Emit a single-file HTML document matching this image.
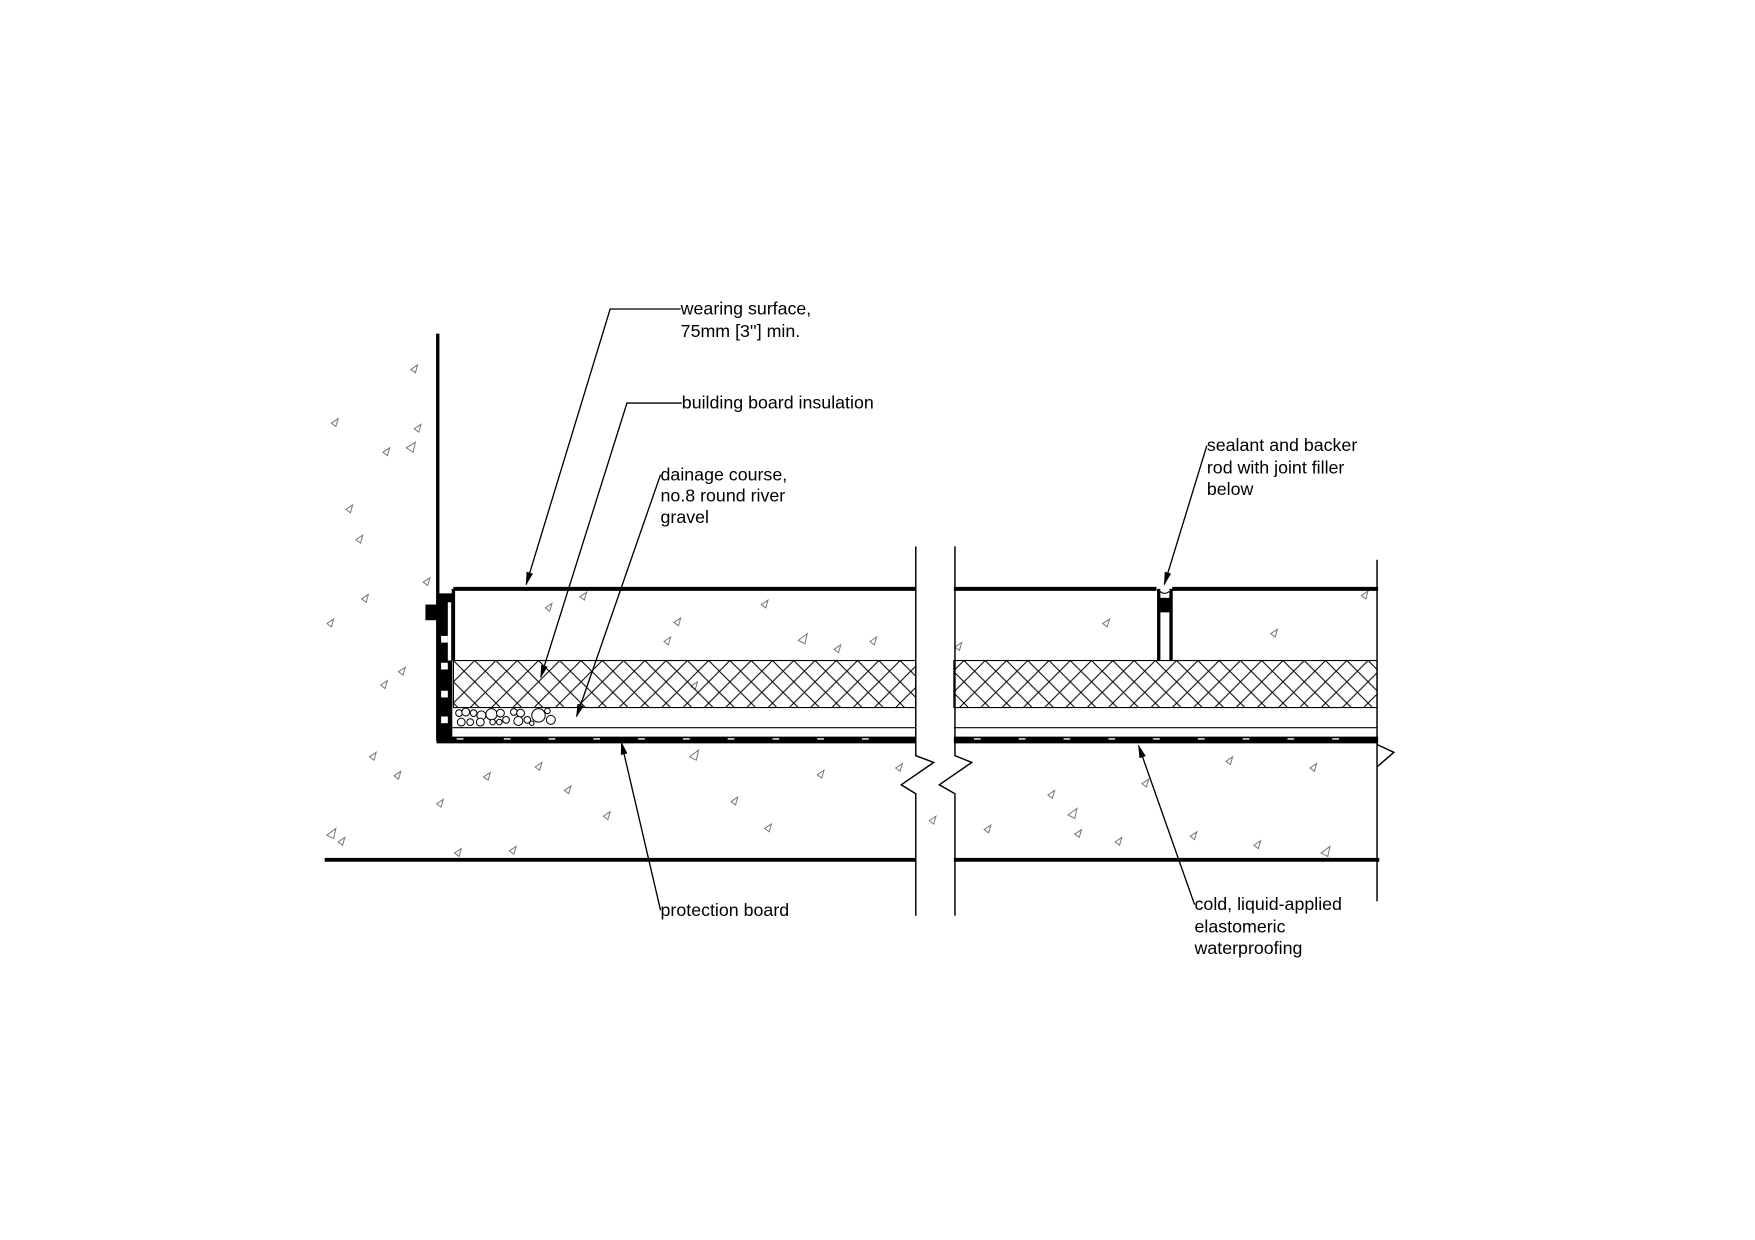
<!DOCTYPE html>
<html><head><meta charset="utf-8"><style>
html,body{margin:0;padding:0;background:#fff;}
svg{display:block;}
text{font-family:"Liberation Sans",sans-serif;font-size:15.9px;fill:#000;}
</style></head><body>
<svg width="1755" height="1240" viewBox="0 0 1567.6 1107.6" xmlns="http://www.w3.org/2000/svg">
<defs>
<pattern id="hatch" width="19" height="19" patternUnits="userSpaceOnUse" x="405" y="590">
<path d="M0 0L19 19M19 0L0 19" stroke="#000" stroke-width="0.9"/>
</pattern>
<marker id="ar" markerWidth="12" markerHeight="8" refX="11" refY="4" orient="auto" markerUnits="userSpaceOnUse">
<path d="M0 1L12 4L0 7Z" fill="#000"/>
</marker>
</defs>
<g fill="none" stroke="#777" stroke-width="0.9">
<path d="M367 330l6-4l-2 7zM296 378l6-4l-2 7zM370 383l6-4l-2 7zM363 400l8-5l-2 9zM342 404l6-4l-2 7zM309 455l6-4l-2 7zM318 482l6-4l-2 7zM378 520l6-4l-2 7zM323 535l6-4l-2 7zM292 557l6-4l-2 7zM356 600l6-4l-2 7zM340 612l6-4l-2 7zM330 676l6-4l-2 7zM352 693l6-4l-2 7zM292 746l8-6l-2 9zM302 752l6-4l-2 7zM406 762l6-4l-2 7zM455 760l6-4l-2 7z"/>
<path d="M518 533l6-4l-2 7zM487 543l6-4l-2 7zM602 556l6-4l-2 7zM617 613l6-4l-2 7zM680 540l6-4l-2 7zM593 573l6-4l-2 7zM713 572l8-6l-2 9zM745 580l6-4l-2 7zM777 573l6-4l-2 7zM853 578l6-4l-2 7zM985 557l6-4l-2 7zM1135 566l6-4l-2 7zM1216 532l6-4l-2 7z"/>
<path d="M478 685l6-4l-2 7zM616 676l8-6l-2 9zM653 716l6-4l-2 7zM730 692l6-4l-2 7zM800 686l6-4l-2 7zM539 729l6-4l-2 7zM504 706l6-4l-2 7zM432 694l6-4l-2 7zM390 718l6-4l-2 7zM683 740l6-4l-2 7zM830 733l6-4l-2 7zM879 741l6-4l-2 7zM936 710l6-4l-2 7zM954 728l8-6l-2 9zM960 745l6-4l-2 7zM996 752l6-4l-2 7zM1063 747l6-4l-2 7zM1095 680l6-4l-2 7zM1170 686l6-4l-2 7zM1020 700l6-4l-2 7zM1180 762l8-6l-2 9zM1120 755l6-4l-2 7z"/>
</g>
<rect x="405" y="590" width="413" height="42" fill="url(#hatch)" stroke="#000" stroke-width="1"/>
<rect x="852" y="590" width="378" height="42" fill="url(#hatch)" stroke="#000" stroke-width="1"/>
<g stroke="#000" fill="none">
<line x1="391" y1="298" x2="391" y2="662" stroke-width="3"/>
<line x1="405" y1="526" x2="818" y2="526" stroke-width="3.5"/>
<line x1="852" y1="526" x2="1033" y2="526" stroke-width="3.5"/>
<line x1="1047" y1="526" x2="1231" y2="526" stroke-width="3.5"/>
<line x1="405" y1="526" x2="405" y2="590" stroke-width="3"/>
<line x1="400" y1="650" x2="818" y2="650" stroke-width="1"/>
<line x1="852" y1="650" x2="1230" y2="650" stroke-width="1"/>
<line x1="390" y1="661" x2="818" y2="661" stroke-width="6"/>
<line x1="852" y1="661" x2="1231" y2="661" stroke-width="6"/>
<line x1="290" y1="768" x2="818" y2="768" stroke-width="3.5"/>
<line x1="852" y1="768" x2="1232" y2="768" stroke-width="3.5"/>
<path d="M818 488V675L834 681L805 701L818 709V818" stroke-width="1.3"/>
<path d="M853 488V675L868 681L839 701L853 709V818" stroke-width="1.3"/>
<line x1="1230" y1="500" x2="1230" y2="805" stroke-width="1.3"/>
<path d="M1230 665L1245 672L1230 685" stroke-width="1.3"/>
<line x1="1035" y1="526" x2="1035" y2="590" stroke-width="3"/>
<line x1="1046" y1="526" x2="1046" y2="590" stroke-width="3"/>
</g>
<rect x="1034" y="534" width="13" height="13" fill="#000"/>
<path d="M1035 527Q1040 533 1046 527" stroke="#000" fill="#fff"/>
<rect x="380" y="540" width="10" height="14" fill="#000"/>
<rect x="390" y="530" width="14" height="130" fill="#000"/>
<g fill="#fff"><rect x="394" y="568" width="6" height="6"/><rect x="394" y="592" width="6" height="6"/><rect x="394" y="617" width="6" height="6"/><rect x="394" y="640" width="6" height="6"/><rect x="400" y="538" width="3" height="52"/></g>
<g stroke="#fff" stroke-width="1.2"><path d="M408 660h6M450 660h6M490 660h6M530 660h6M570 660h6M610 660h6M650 660h6M690 660h6M730 660h6M770 660h6M870 660h6M910 660h6M950 660h6M990 660h6M1030 660h6M1070 660h6M1110 660h6M1150 660h6M1190 660h6"/></g>
<g fill="#fff" stroke="#000" stroke-width="0.9">
<circle cx="410" cy="637" r="3"/><circle cx="416" cy="636" r="3.5"/><circle cx="423" cy="637" r="3"/><circle cx="430" cy="639" r="4"/><circle cx="439" cy="638" r="5"/><circle cx="447" cy="637" r="3.5"/><circle cx="452" cy="643" r="3"/><circle cx="459" cy="636" r="3"/><circle cx="465" cy="637" r="3.5"/><circle cx="463" cy="644" r="4"/><circle cx="471" cy="643" r="3"/><circle cx="481" cy="639" r="6"/><circle cx="489" cy="635" r="2.5"/><circle cx="492" cy="643" r="4"/><circle cx="412" cy="645" r="3.5"/><circle cx="420" cy="645" r="3"/><circle cx="429" cy="645" r="3.5"/><circle cx="440" cy="645" r="2.5"/><circle cx="446" cy="645" r="2.5"/><circle cx="475" cy="646" r="2"/>
</g>
<g stroke="#000" stroke-width="1.2" fill="none" marker-end="url(#ar)">
<path d="M608 276H545L470 522"/>
<path d="M609 360H560L483 605"/>
<path d="M590 424L515 640"/>
<path d="M1078 398L1040 522"/>
<path d="M590 813L555 663"/>
<path d="M1067 808L1017 666"/>
</g>
<text x="608" y="281">wearing surface,</text>
<text x="608" y="301">75mm [3''] min.</text>
<text x="609" y="365">building board insulation</text>
<text x="590" y="429">dainage course,</text>
<text x="590" y="448">no.8 round river</text>
<text x="590" y="467">gravel</text>
<text x="1078" y="403">sealant and backer</text>
<text x="1078" y="423">rod with joint filler</text>
<text x="1078" y="442">below</text>
<text x="590" y="818">protection board</text>
<text x="1067" y="813">cold, liquid-applied</text>
<text x="1067" y="833">elastomeric</text>
<text x="1067" y="852">waterproofing</text>
</svg>
</body></html>
